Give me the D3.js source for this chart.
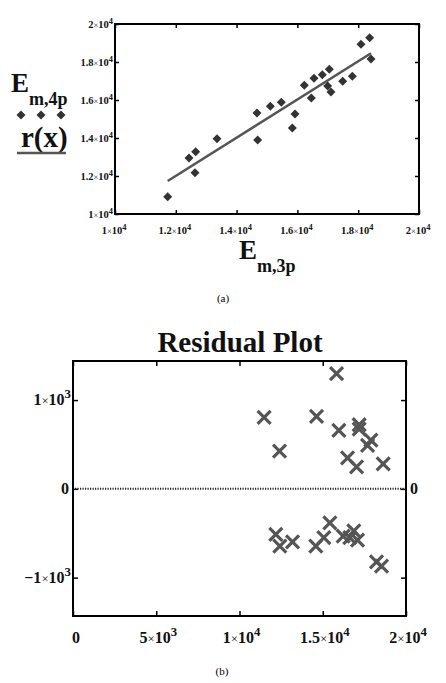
<!DOCTYPE html>
<meta charset="utf-8">
<style>
body { margin: 0; background: #fff; }
.frame { fill: none; stroke: #000; stroke-width: 2px; }
.tick line { stroke: #000; stroke-width: 1.5px; }
.domain { display: none; }
.lbl { font-weight: bold; fill: #111; }
</style>
<body>
<script src="https://cdn.jsdelivr.net/npm/d3@7"></script>
<script>
var width = 446, height = 683;
var serif = "Liberation Serif, Times New Roman, serif";

// (a) measured points, E_m,3p vs E_m,4p
var e3p = [11733, 12434, 12654, 12632, 13355, 14671, 14693, 15110, 15471, 15833, 15921, 16228,
           16458, 16546, 16820, 17050, 16996, 17105, 17490, 17807, 18092, 18377, 18421];
var e4p = [10911, 12947, 13279, 12174, 13963, 15316, 13895, 15667, 15877, 14526, 15263, 16772,
           16105, 17140, 17333, 17614, 16737, 16421, 16982, 17246, 18930, 19281, 18158];
// fitted line r(x), end points
var fitX = [11733, 18421];
var fitY = [11737, 18458];
var ticksA = [10000, 12000, 14000, 16000, 18000, 20000];

// (b) residuals
var resX = [11478, 12404, 14627, 15829, 15968, 17188, 17188, 17692, 17891, 16490, 17031, 18630,
            12181, 12422, 13185, 14585, 15066, 15427, 16226, 16627, 16867, 17089, 18230, 18530];
var resY = [805, 425, 816, 1297, 658, 722, 673, 489, 549, 350, 248, 282,
            -514, -646, -597, -646, -548, -383, -533, -548, -473, -578, -823, -871];
var ticksBx = [0, 5000, 10000, 15000, 20000];
var ticksBy = [-1000, 0, 1000];

var svg = d3.select("body").append("svg")
    .attr("width", width)
    .attr("height", height)
    .style("display", "block");

function txt(g) {
  return g.append("text").attr("font-family", serif);
}

// label like 1.2x10^4 with a superscript
function sciLabel(sel, v, size) {
  if (v === 0) { sel.text("0"); return; }
  var e = Math.floor(Math.log10(Math.abs(v)));
  var m = v / Math.pow(10, e);
  var ms = (m < 0 ? "\u2212" : "") + d3.format("~g")(Math.abs(m));
  sel.append("tspan").text(ms);
  sel.append("tspan").attr("font-weight", "normal").attr("font-size", size * 0.8).text("\u00d7");
  sel.append("tspan").text("10");
  sel.append("tspan").attr("dy", -size * 0.42).attr("font-size", size * 0.8).text(e);
}

// ---------- (a) ----------
var xa = d3.scaleLinear().domain([10000, 20000]).range([115, 419]);
var ya = d3.scaleLinear().domain([10000, 20000]).range([214, 24]);
var ga = svg.append("g");

ga.append("g").attr("transform", "translate(0,214)")
    .call(d3.axisBottom(xa).tickValues(ticksA).tickSizeInner(-4).tickSizeOuter(0).tickFormat(""));
ga.append("g").attr("transform", "translate(0,24)")
    .call(d3.axisTop(xa).tickValues(ticksA).tickSizeInner(-4).tickSizeOuter(0).tickFormat(""));
ga.append("g").attr("transform", "translate(115,0)")
    .call(d3.axisLeft(ya).tickValues(ticksA).tickSizeInner(-4).tickSizeOuter(0).tickFormat(""));
ga.append("g").attr("transform", "translate(419,0)")
    .call(d3.axisRight(ya).tickValues(ticksA).tickSizeInner(-4).tickSizeOuter(0).tickFormat(""));

ga.append("rect").attr("class", "frame")
    .attr("x", 115).attr("y", 24).attr("width", 304).attr("height", 190);

ga.selectAll(".xl").data(ticksA).enter().append("text")
    .attr("font-family", serif)
    .attr("class", "lbl").attr("font-size", 10.5).attr("text-anchor", "middle")
    .attr("x", function(d) { return xa(d) - 1; }).attr("y", 234)
    .each(function(d) { sciLabel(d3.select(this), d, 10.5); });
ga.selectAll(".yl").data(ticksA).enter().append("text")
    .attr("font-family", serif)
    .attr("class", "lbl").attr("font-size", 10.5).attr("text-anchor", "end")
    .attr("x", 113).attr("y", function(d) { return ya(d) + 4; })
    .each(function(d) { sciLabel(d3.select(this), d, 10.5); });

ga.append("line")
    .attr("x1", xa(fitX[0])).attr("y1", ya(fitY[0]))
    .attr("x2", xa(fitX[1])).attr("y2", ya(fitY[1]))
    .attr("stroke", "#555").attr("stroke-width", 2.5);

var diamond = d3.symbol().type(d3.symbolSquare).size(40);
ga.selectAll(".pt").data(e3p).enter().append("path")
    .attr("d", diamond)
    .attr("fill", "#333")
    .attr("transform", function(d, i) { return "translate(" + xa(d) + "," + ya(e4p[i]) + ") rotate(45)"; });

// y legend/label
var yl = txt(ga).attr("class", "lbl").attr("x", 11).attr("y", 92);
yl.append("tspan").attr("font-size", 27).text("E");
yl.append("tspan").attr("font-size", 18).attr("dy", 13).text("m,4p");
[21, 41, 61].forEach(function(x) {
  ga.append("path").attr("d", diamond).attr("fill", "#333")
      .attr("transform", "translate(" + x + ",115) rotate(45)");
});
txt(ga).attr("class", "lbl").attr("font-size", 29).attr("x", 21).attr("y", 147).text("r(x)");
ga.append("line").attr("x1", 17).attr("x2", 66).attr("y1", 153).attr("y2", 153)
    .attr("stroke", "#555").attr("stroke-width", 2.5);

var xl = txt(ga).attr("class", "lbl").attr("x", 239).attr("y", 259);
xl.append("tspan").attr("font-size", 27).text("E");
xl.append("tspan").attr("font-size", 18).attr("dy", 13).text("m,3p");

txt(svg).attr("x", 223).attr("y", 302).attr("text-anchor", "middle")
    .attr("font-size", 11).text("(a)");

// ---------- (b) ----------
var xb = d3.scaleLinear().domain([0, 20000]).range([73, 406]);
var yb = d3.scaleLinear().domain([-1432, 1440]).range([616, 361]);
var gb = svg.append("g");

txt(svg).attr("class", "lbl").attr("x", 240).attr("y", 352)
    .attr("text-anchor", "middle").attr("font-size", 29).text("Residual Plot");

gb.append("g").attr("transform", "translate(0,616)")
    .call(d3.axisBottom(xb).tickValues(ticksBx).tickSizeInner(-5).tickSizeOuter(0).tickFormat(""));
gb.append("g").attr("transform", "translate(0,361)")
    .call(d3.axisTop(xb).tickValues(ticksBx).tickSizeInner(-5).tickSizeOuter(0).tickFormat(""));
gb.append("g").attr("transform", "translate(73,0)")
    .call(d3.axisLeft(yb).tickValues(ticksBy).tickSizeInner(-5).tickSizeOuter(0).tickFormat(""));
gb.append("g").attr("transform", "translate(406,0)")
    .call(d3.axisRight(yb).tickValues(ticksBy).tickSizeInner(-5).tickSizeOuter(0).tickFormat(""));

gb.append("line").attr("x1", 75).attr("x2", 404)
    .attr("y1", yb(0)).attr("y2", yb(0))
    .attr("stroke", "#222").attr("stroke-width", 2).attr("stroke-dasharray", "1.2,1.3");

gb.append("rect").attr("class", "frame").attr("stroke-width", 2.5)
    .attr("x", 73).attr("y", 361).attr("width", 333).attr("height", 255);

gb.selectAll(".bx").data(ticksBx).enter().append("text")
    .attr("font-family", serif)
    .attr("class", "lbl").attr("font-size", 16)
    .attr("text-anchor", function(d) { return d === 0 ? "start" : "middle"; })
    .attr("x", function(d) { return d === 0 ? xb(d) - 1 : xb(d) + 2; }).attr("y", 643)
    .each(function(d) { sciLabel(d3.select(this), d, 16); });
gb.selectAll(".by").data(ticksBy).enter().append("text")
    .attr("font-family", serif)
    .attr("class", "lbl").attr("font-size", 16).attr("text-anchor", "end")
    .attr("x", function(d) { return d === 0 ? 69 : 71; }).attr("y", function(d) { return yb(d) + 5; })
    .each(function(d) { sciLabel(d3.select(this), d, 16); });
txt(gb).attr("class", "lbl").attr("font-size", 16)
    .attr("x", 410).attr("y", yb(0) + 5).text("0");

var s = 6.5;
gb.selectAll(".rx").data(resX).enter().append("path")
    .attr("d", "M" + (-s) + "," + (-s) + "L" + s + "," + s + "M" + (-s) + "," + s + "L" + s + "," + (-s))
    .attr("stroke", "#555").attr("stroke-width", 3.2).attr("fill", "none")
    .attr("transform", function(d, i) { return "translate(" + xb(d) + "," + yb(resY[i]) + ")"; });

txt(svg).attr("x", 222).attr("y", 675).attr("text-anchor", "middle")
    .attr("font-size", 11).text("(b)");
</script>
